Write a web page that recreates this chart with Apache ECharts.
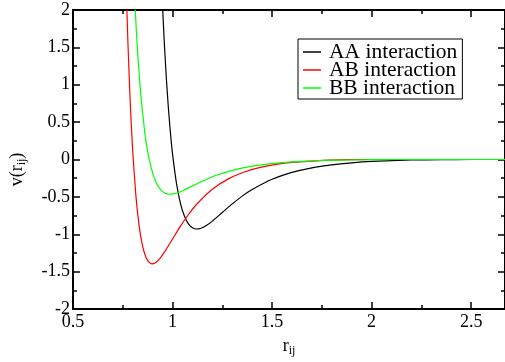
<!DOCTYPE html>
<html>
<head>
<meta charset="utf-8">
<script src="https://cdn.jsdelivr.net/npm/echarts@6/dist/echarts.min.js"></script>
<style>html,body{margin:0;padding:0;background:#fff;}#c{width:505px;height:362px;}</style>
</head>
<body>
<div id="c"></div>
<script>
var seriesNames = ['AA interaction', 'AB interaction', 'BB interaction'];
var xTicks = [0.5, 1, 1.5, 2, 2.5];
var yTicks = [-2, -1.5, -1, -0.5, 0, 0.5, 1, 1.5, 2];

var rAA = [0.94, 0.95, 0.96, 0.97, 0.98, 0.99, 1.00, 1.02, 1.04, 1.06, 1.08, 1.10, 1.12, 1.14, 1.17, 1.20, 1.25, 1.30, 1.35, 1.40, 1.50, 1.60, 1.70, 1.80, 1.90, 2.00, 2.20, 2.35, 2.50, 2.70];
var vAA = [2.683, 2.038, 1.494, 1.039, 0.658, 0.339, 0.075, -0.324, -0.590, -0.760, -0.861, -0.913, -0.930, -0.923, -0.883, -0.824, -0.709, -0.594, -0.490, -0.402, -0.265, -0.173, -0.111, -0.071, -0.044, -0.026, -0.007, -0.0015, 0, 0];

var rAB = [0.752, 0.760, 0.768, 0.776, 0.784, 0.792, 0.800, 0.816, 0.832, 0.848, 0.864, 0.880, 0.896, 0.912, 0.936, 0.960, 1.000, 1.040, 1.080, 1.120, 1.200, 1.280, 1.360, 1.440, 1.520, 1.600, 1.760, 1.880, 2.000, 2.700];
var vAB = [4.02, 3.057, 2.241, 1.559, 0.987, 0.509, 0.112, -0.486, -0.885, -1.139, -1.291, -1.369, -1.395, -1.384, -1.325, -1.236, -1.063, -0.891, -0.736, -0.602, -0.398, -0.259, -0.167, -0.106, -0.065, -0.039, -0.0105, -0.0023, 0, 0];

var rBB = [0.792, 0.810, 0.818, 0.827, 0.836, 0.845, 0.854, 0.862, 0.871, 0.880, 0.898, 0.915, 0.933, 0.950, 0.968, 0.986, 1.003, 1.030, 1.056, 1.100, 1.144, 1.188, 1.232, 1.320, 1.408, 1.496, 1.584, 1.672, 1.760, 1.936, 2.068, 2.200, 2.700];
var vBB = [3.358, 2.181, 1.726, 1.342, 1.019, 0.747, 0.520, 0.329, 0.170, 0.037, -0.162, -0.295, -0.380, -0.430, -0.456, -0.465, -0.461, -0.442, -0.412, -0.354, -0.297, -0.245, -0.201, -0.1325, -0.0864, -0.0557, -0.0353, -0.0218, -0.0129, -0.0035, -0.0008, 0, 0];

function pairs(r, v) { return r.map(function (x, i) { return [x, v[i]]; }); }

var FONT = '"Liberation Serif", "DejaVu Serif", serif';
var axisLine = { show: true, onZero: false, lineStyle: { color: '#000', width: 2 } };
var tick = { show: true, inside: true, length: 7, lineStyle: { color: '#000', width: 1.5 } };
var minor = { show: true, splitNumber: 2, length: 4, lineStyle: { color: '#000', width: 1.5 } };

var chart = echarts.init(document.getElementById('c'), null, { renderer: 'canvas' });
chart.setOption({
  animation: false,
  backgroundColor: '#fff',
  grid: { left: 71, right: 0, top: 10, bottom: 44 },
  legend: {
    orient: 'vertical',
    left: 298, top: 39,
    data: seriesNames,
    icon: 'rect',
    backgroundColor: '#fff',
    borderColor: '#000', borderWidth: 1,
    padding: [2, 5, 0, 5],
    itemGap: -4,
    itemWidth: 18, itemHeight: 1.5,
    textStyle: { fontFamily: FONT, fontSize: 21.5, color: '#000', lineHeight: 19, padding: [0, 0, 0, 3] }
  },
  xAxis: [{
    type: 'value', min: 0.5, max: 2.67, interval: 0.5,
    position: 'bottom',
    axisLine: axisLine, axisTick: tick, minorTick: minor,
    splitLine: { show: false },
    axisLabel: { fontFamily: FONT, fontSize: 18, color: '#000', margin: 4, showMaxLabel: false,
      formatter: function (v) { return xTicks.indexOf(Math.round(v * 10) / 10) >= 0 ? String(v) : ''; } },
    name: '{a|r}{b|ij}', nameLocation: 'middle', nameGap: 26,
    nameTextStyle: { rich: { a: { fontFamily: FONT, fontSize: 18, color: '#000' }, b: { fontFamily: FONT, fontSize: 12, color: '#000', padding: [10, 0, 0, 0] } } }
  }, {
    type: 'value', min: 0.5, max: 2.67, interval: 0.5,
    position: 'top',
    axisLine: axisLine, axisTick: tick, minorTick: minor,
    splitLine: { show: false }, axisLabel: { show: false }
  }],
  yAxis: [{
    type: 'value', min: -2, max: 2, interval: 0.5,
    position: 'left',
    axisLine: axisLine, axisTick: tick, minorTick: minor,
    splitLine: { show: false },
    axisLabel: { fontFamily: FONT, fontSize: 18, color: '#000', margin: 3,
      formatter: function (v) { return yTicks.indexOf(v) >= 0 ? String(v) : ''; } },
    name: '{a|v(r}{b|ij}{a|)}', nameLocation: 'middle', nameGap: 45,
    nameTextStyle: { padding: [0, 20, 0, 0], rich: { a: { fontFamily: FONT, fontSize: 18, color: '#000' }, b: { fontFamily: FONT, fontSize: 12, color: '#000', padding: [10, 0, 0, 0] } } }
  }, {
    type: 'value', min: -2, max: 2, interval: 0.5,
    position: 'right',
    axisLine: axisLine, axisTick: tick, minorTick: minor,
    splitLine: { show: false }, axisLabel: { show: false }
  }],
  series: [
    { name: seriesNames[0], type: 'line', data: pairs(rAA, vAA), symbol: 'none', smooth: 0.2, clip: true, lineStyle: { color: '#000', width: 1.2 }, itemStyle: { color: '#000' } },
    { name: seriesNames[1], type: 'line', data: pairs(rAB, vAB), symbol: 'none', smooth: 0.2, clip: true, lineStyle: { color: '#ff0000', width: 1.2 }, itemStyle: { color: '#ff0000' } },
    { name: seriesNames[2], type: 'line', data: pairs(rBB, vBB), symbol: 'none', smooth: 0.2, clip: true, lineStyle: { color: '#00ff00', width: 1.2 }, itemStyle: { color: '#00ff00' } }
  ]
});
</script>
</body>
</html>
